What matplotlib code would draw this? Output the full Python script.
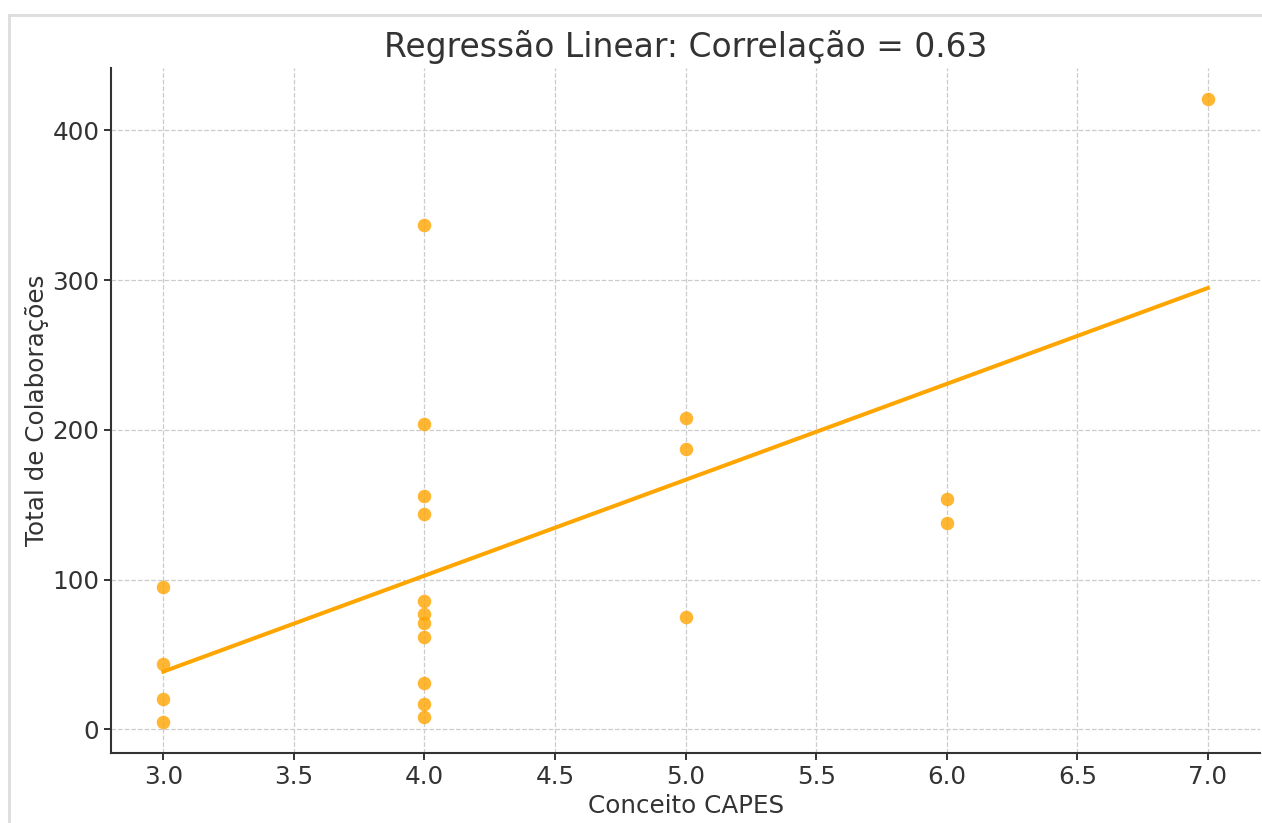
import numpy as np
import matplotlib
matplotlib.use("Agg")
import matplotlib.pyplot as plt
from matplotlib.lines import Line2D

# CAPES grade of each graduate program and its total number of collaborations
conceito = [3, 3, 3, 3,
            4, 4, 4, 4, 4, 4, 4, 4, 4, 4, 4,
            5, 5, 5,
            6, 6,
            7]
colaboracoes = [95, 44, 20, 5,
                337, 204, 156, 144, 86, 77, 71, 62, 31, 17, 8,
                208, 187, 75,
                154, 138,
                421]

x = np.array(conceito, dtype=float)
y = np.array(colaboracoes, dtype=float)

# Least-squares fit and Pearson correlation
slope, intercept = np.polyfit(x, y, 1)
r = np.corrcoef(x, y)[0, 1]
x_fit = np.array([x.min(), x.max()])
y_fit = slope * x_fit + intercept

text_color = "#333333"
plt.rcParams["font.family"] = "DejaVu Sans"

fig = plt.figure(figsize=(12.62, 8.23), dpi=100)
ax = fig.add_axes([0.088, 0.085, 0.9105, 0.8325])

ax.scatter(x, y, s=95, color="orange", alpha=0.8, linewidths=0, zorder=3)
ax.plot(x_fit, y_fit, color="orange", linewidth=2.9, zorder=4)

ax.set_title(f"Regressão Linear: Correlação = {r:.2f}", fontsize=23.7,
             color=text_color, pad=8)
ax.set_xlabel("Conceito CAPES", fontsize=17.7, color=text_color, labelpad=4)
ax.set_ylabel("Total de Colaborações", fontsize=17.7, color=text_color, labelpad=2)

ax.set_xticks(np.arange(3.0, 7.01, 0.5))
ax.set_yticks([0, 100, 200, 300, 400])
ax.tick_params(axis="both", labelsize=17.7, colors=text_color, length=5,
               width=1.4, pad=3.5)

ax.grid(True, linestyle="--", color="#cccccc", linewidth=0.9, zorder=0)
ax.set_axisbelow(True)

for side in ("top", "right"):
    ax.spines[side].set_visible(False)
for side in ("left", "bottom"):
    ax.spines[side].set_color(text_color)
    ax.spines[side].set_linewidth(1.5)

# Light frame around the figure (top and left edges)
frame_kw = dict(color="#dddddd", linewidth=2.0, transform=fig.transFigure)
fig.add_artist(Line2D([8.5 / 1262, 1.0], [1 - 14.5 / 823, 1 - 14.5 / 823], **frame_kw))
fig.add_artist(Line2D([8.5 / 1262, 8.5 / 1262], [0.0, 1 - 14.5 / 823], **frame_kw))

fig.savefig("out.png", dpi=100)
